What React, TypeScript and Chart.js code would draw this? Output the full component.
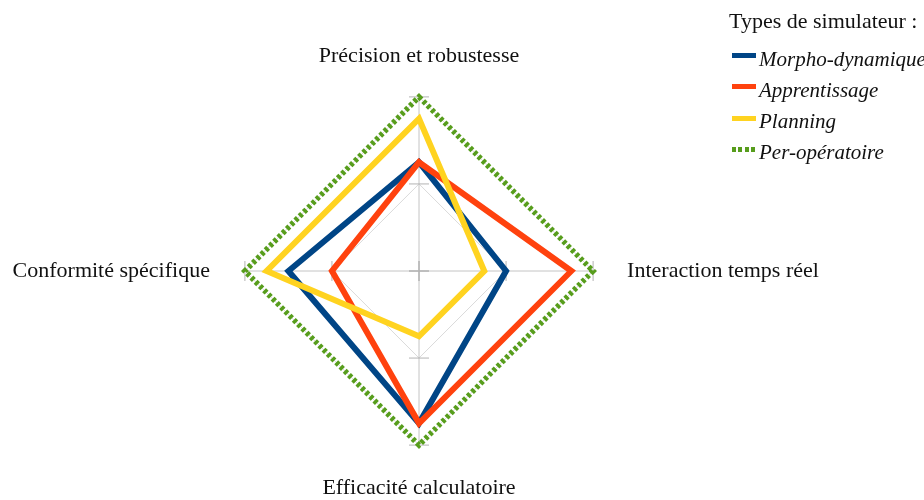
import React, { useEffect, useRef } from 'react';
import { Chart, registerables } from 'chart.js';

Chart.register(...registerables);

const axisLabels = ['Précision et robustesse', 'Interaction temps réel', 'Efficacité calculatoire', 'Conformité spécifique'];
const seriesNames = ['Morpho-dynamique', 'Apprentissage', 'Planning', 'Per-opératoire'];
const morphoValues = [2.5, 2, 3.5, 3];
const apprentissageValues = [2.5, 3.5, 3.5, 2];
const planningValues = [3.5, 1.5, 1.5, 3.5];
const perOperatoireValues = [4, 4, 4, 4];
const scaleTicks = [0, 2, 4];
const legendTitle = 'Types de simulateur :';

const COLORS = ['#004586', '#ff420e', '#ffd320', '#579d1c'];
const FONT = "'Liberation Serif', 'Times New Roman', serif";
const labelPadding = [27.5, 34, 29.5, 35];

const CANVAS_LEFT = -200;
const CANVAS_TOP = -10;
const CANVAS_W = 1324;
const CANVAS_H = 540;

const tickMarks = {
  id: 'tickMarks',
  beforeDatasetsDraw(chart: any) {
    const s = chart.scales.r;
    const ctx = chart.ctx;
    ctx.save();
    ctx.strokeStyle = '#b3b3b3';
    ctx.lineWidth = 1;
    for (let i = 0; i < axisLabels.length; i++) {
      for (const v of scaleTicks) {
        const p = s.getPointPositionForValue(i, v);
        const dx = -Math.sin(p.angle) * 10;
        const dy = Math.cos(p.angle) * 10;
        ctx.beginPath();
        ctx.moveTo(p.x - dx, p.y - dy);
        ctx.lineTo(p.x + dx, p.y + dy);
        ctx.stroke();
      }
    }
    ctx.restore();
  },
};

function RadarChart() {
  const ref = useRef<HTMLCanvasElement | null>(null);
  useEffect(() => {
    if (!ref.current) return;
    const series = [morphoValues, apprentissageValues, planningValues, perOperatoireValues];
    const chart = new Chart(ref.current, {
      type: 'radar',
      data: {
        labels: axisLabels,
        datasets: series.map((vals, i) => ({
          label: seriesNames[i],
          data: vals,
          borderColor: COLORS[i],
          backgroundColor: 'transparent',
          borderWidth: i === 3 ? 5.5 : 6,
          borderDash: i === 3 ? [3.5, 2.5] : [],
          borderJoinStyle: 'miter',
          fill: false,
          pointRadius: 0,
          pointHoverRadius: 0,
          order: 4 - i,
        })),
      },
      options: {
        responsive: false,
        animation: false,
        layout: { padding: { left: 0, right: 86, top: 52, bottom: 28 } },
        plugins: { legend: { display: false }, tooltip: { enabled: false } },
        scales: {
          r: {
            min: 0,
            max: 4,
            ticks: { display: false, stepSize: 2 },
            grid: { color: '#dadada', lineWidth: 1 },
            angleLines: { color: '#c4c4c4', lineWidth: 1 },
            pointLabels: {
              display: true,
              color: '#111111',
              font: { family: FONT, size: 22, lineHeight: 1.2 },
              padding: (ctx: any) => labelPadding[ctx.index],
            },
          },
        },
      } as any,
      plugins: [tickMarks],
    });
    return () => chart.destroy();
  }, []);
  return (
    <canvas
      ref={ref}
      width={CANVAS_W}
      height={CANVAS_H}
      style={{ position: 'fixed', left: CANVAS_LEFT, top: CANVAS_TOP, width: CANVAS_W, height: CANVAS_H }}
    />
  );
}

function Legend() {
  return (
    <div style={{ position: 'fixed', left: 0, top: 0, fontFamily: FONT, color: '#111111' }}>
      <div style={{ position: 'fixed', left: 729, top: 10, fontSize: 22, lineHeight: '22px', whiteSpace: 'nowrap' }}>
        {legendTitle}
      </div>
      {seriesNames.map((name, i) => (
        <React.Fragment key={name}>
          <div
            style={{
              position: 'fixed',
              left: 732,
              top: 52.5 + 31.5 * i,
              width: 24,
              height: 5,
              background:
                i === 3
                  ? `repeating-linear-gradient(90deg, ${COLORS[i]} 0px, ${COLORS[i]} 4px, transparent 4px, transparent 6.5px)`
                  : COLORS[i],
            }}
          />
          <div
            style={{
              position: 'fixed',
              left: 759,
              top: 49 + 31 * i,
              fontSize: 21,
              lineHeight: '21px',
              fontStyle: 'italic',
              whiteSpace: 'nowrap',
            }}
          >
            {name}
          </div>
        </React.Fragment>
      ))}
    </div>
  );
}

export default function App() {
  return (
    <div>
      <RadarChart />
      <Legend />
    </div>
  );
}
